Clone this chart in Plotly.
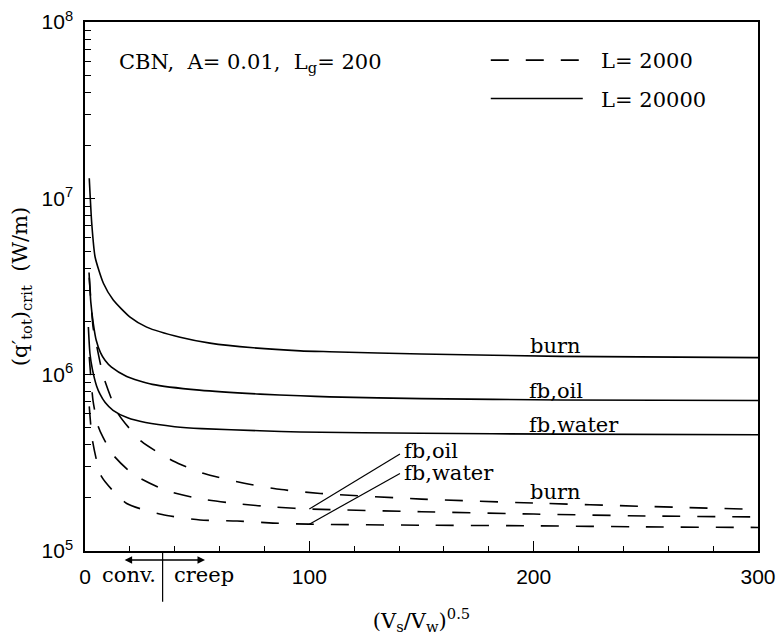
import plotly.graph_objects as go

# ---------------- data ----------------
# x = (V_s/V_w)^0.5 ; q = (q'_tot)_crit in W/m
# L = 20000 (solid)
x_burn_20000 = [1.9, 3.0, 4.5, 8.2, 12.6, 20.1, 27.5, 42.4, 55.7, 75, 96, 109, 150, 212, 300]
q_burn_20000 = [1.30e7, 7.23e6, 4.65e6, 3.30e6, 2.65e6, 2.12e6, 1.86e6, 1.63e6, 1.51e6,
                1.42e6, 1.365e6, 1.35e6, 1.31e6, 1.27e6, 1.25e6]
x_oil_20000 = [1.8, 2.6, 3.7, 5.0, 6.9, 9.0, 11.8, 18.6, 30, 51, 78, 96, 109, 150, 212, 300]
q_oil_20000 = [3.80e6, 2.57e6, 1.95e6, 1.567e6, 1.334e6, 1.202e6, 1.102e6, 9.77e5, 8.81e5,
               8.17e5, 7.76e5, 7.59e5, 7.48e5, 7.31e5, 7.19e5, 7.14e5]
x_water_20000 = [1.5, 2.2, 3.3, 5.2, 6.7, 9, 12.5, 19, 27, 40, 52, 78, 96, 150, 212, 300]
q_water_20000 = [1.862e6, 1.318e6, 1.072e6, 8.61e5, 7.76e5, 6.95e5, 6.28e5, 5.69e5, 5.35e5,
                 5.07e5, 4.94e5, 4.81e5, 4.73e5, 4.65e5, 4.60e5, 4.56e5]
# L = 2000 (dashed)
x_burn_2000 = [1.9, 3.6, 4.5, 8.2, 14.7, 25.2, 39.3, 53.1, 71, 87.5, 104.9, 150, 200, 250, 300]
q_burn_2000 = [3.55e6, 1.86e6, 1.62e6, 9.77e5, 6.03e5, 4.18e5, 3.24e5, 2.75e5, 2.42e5,
               2.23e5, 2.12e5, 1.97e5, 1.87e5, 1.79e5, 1.72e5]
x_oil_2000 = [1.9, 3.6, 5.8, 8, 12.5, 21.2, 36.2, 52, 68.7, 85.6, 100, 150, 200, 250, 300]
q_oil_2000 = [1.26e6, 7.08e5, 5.13e5, 4.42e5, 3.51e5, 2.74e5, 2.20e5, 1.97e5, 1.85e5,
              1.77e5, 1.73e5, 1.67e5, 1.62e5, 1.58e5, 1.56e5]
x_water_2000 = [1.9, 3.3, 7.4, 18.6, 34.4, 51.3, 67.8, 83.8, 100, 150, 200, 250, 300]
q_water_2000 = [6.61e5, 4.26e5, 2.64e5, 1.86e5, 1.61e5, 1.50e5, 1.48e5, 1.44e5, 1.42e5,
                1.40e5, 1.39e5, 1.37e5, 1.36e5]

x_ticks = [0, 100, 200, 300]
x_tick_text = ["0", "100", "200", "300"]
y_ticks = [1e5, 1e6, 1e7, 1e8]
y_tick_text = ["10<sup>5</sup>", "10<sup>6</sup>", "10<sup>7</sup>", "10<sup>8</sup>"]

# curve labels: (text, x, log10(q))
labels_20000 = [("burn", 197.5, 6.162), ("fb,oil", 197, 5.907), ("fb,water", 197, 5.714)]
labels_2000 = [("burn", 197.5, 5.334), ("fb,oil", 141.3, 5.567), ("fb,water", 141.3, 5.443)]
# leader lines from curve at x=100 to label
leader_x = [100, 140.4]
leader_oil_q = [1.73e5, 3.55e5]
leader_water_q = [1.42e5, 2.75e5]

# conv./creep indicator on the x axis
regime_split_x = 34.6
regime_arrow_x = [17, 53.5]

SERIF = "DejaVu Serif"
SANS = "Liberation Sans"
FS = 21
NB = "\u00a0"

fig = go.Figure()

dash_style = "18px,17px"
dashed = [(x_burn_2000, q_burn_2000), (x_oil_2000, q_oil_2000), (x_water_2000, q_water_2000)]
solid = [(x_burn_20000, q_burn_20000), (x_oil_20000, q_oil_20000), (x_water_20000, q_water_20000)]

for i, (xs, qs) in enumerate(dashed):
    fig.add_trace(go.Scatter(x=xs, y=qs, mode="lines", name=NB * 2 + "L= 2000",
                             legendgroup="L2000", showlegend=(i == 0),
                             line=dict(color="black", width=1.6, dash=dash_style,
                                       shape="spline", smoothing=0.6)))
for i, (xs, qs) in enumerate(solid):
    fig.add_trace(go.Scatter(x=xs, y=qs, mode="lines", name=NB * 2 + "L= 20000",
                             legendgroup="L20000", showlegend=(i == 0),
                             line=dict(color="black", width=1.6,
                                       shape="spline", smoothing=0.6)))

for qs in (leader_oil_q, leader_water_q):
    fig.add_trace(go.Scatter(x=leader_x, y=qs, mode="lines", showlegend=False,
                             line=dict(color="black", width=1.2), hoverinfo="skip"))

annotations = []
for text, x, ly in labels_20000 + labels_2000:
    annotations.append(dict(text=text, x=x, y=ly, xref="x", yref="y", showarrow=False,
                            xanchor="left", yanchor="middle",
                            font=dict(family=SERIF, size=FS, color="black")))

annotations.append(dict(text="CBN,  A= 0.01,  L<sub>g</sub>= 200", xref="paper", yref="paper",
                        x=0.047, y=0.922, xanchor="left", yanchor="middle", showarrow=False,
                        font=dict(family=SERIF, size=FS, color="black")))

annotations.append(dict(text="conv.", xref="x", yref="paper", x=19.4, y=-0.046,
                        xanchor="center", yanchor="middle",
                        showarrow=False, font=dict(family=SERIF, size=FS, color="black")))
annotations.append(dict(text="creep", xref="x", yref="paper", x=53.1, y=-0.046,
                        xanchor="center", yanchor="middle",
                        showarrow=False, font=dict(family=SERIF, size=FS, color="black")))
annotations.append(dict(text="", xref="x", yref="paper", x=regime_arrow_x[1], y=-0.017,
                        axref="x", ayref="pixel", ax=regime_arrow_x[0], ay=0,
                        showarrow=True, arrowhead=2, startarrowhead=2, arrowside="end+start",
                        arrowsize=1, arrowwidth=1.5, arrowcolor="black"))

shapes = [dict(type="line", xref="paper", yref="paper",
               x0=regime_split_x / 300, x1=regime_split_x / 300, y0=0, y1=-0.096,
               line=dict(color="black", width=1.2))]

fig.update_layout(
    width=778, height=635,
    margin=dict(l=85, r=20, t=22, b=84, autoexpand=False),
    paper_bgcolor="white", plot_bgcolor="white",
    font=dict(family=SERIF, size=FS, color="black"),
    annotations=annotations, shapes=shapes,
    legend=dict(x=0.5955, y=0.966, xanchor="left", yanchor="top",
                font=dict(family=SERIF, size=FS, color="black"),
                itemwidth=92, bgcolor="rgba(0,0,0,0)", tracegroupgap=8,
                traceorder="grouped"),
    xaxis=dict(range=[0, 300], showgrid=False, zeroline=False, automargin=False,
               showline=True, linecolor="black", linewidth=1.5, mirror=True,
               ticks="inside", ticklen=10, tickwidth=1.3, tickcolor="black",
               tickvals=x_ticks, ticktext=x_tick_text,
               tickfont=dict(family=SANS, size=21, color="black"),
               ticklabelstandoff=6,
               minor=dict(ticks="inside", ticklen=5, tickwidth=1.2, tickcolor="black", dtick=20),
               title=dict(text="(V<sub>s</sub>/V<sub>w</sub>)<sup>0.5</sup>",
                          font=dict(family=SERIF, size=FS, color="black"), standoff=30)),
    yaxis=dict(type="log", range=[5, 8], showgrid=False, zeroline=False, automargin=False,
               showline=True, linecolor="black", linewidth=1.5, mirror=True,
               ticks="inside", ticklen=10, tickwidth=1.3, tickcolor="black",
               tickvals=y_ticks, ticktext=y_tick_text,
               tickfont=dict(family=SANS, size=21, color="black"),
               ticklabelstandoff=6,
               minor=dict(ticks="inside", ticklen=6, tickwidth=1.2, tickcolor="black", dtick="D1"),
               title=dict(text="(q′<sub>tot</sub>)<sub>crit</sub>  (W/m)",
                          font=dict(family=SERIF, size=FS, color="black"), standoff=8)),
)

fig.write_html("out.html")
